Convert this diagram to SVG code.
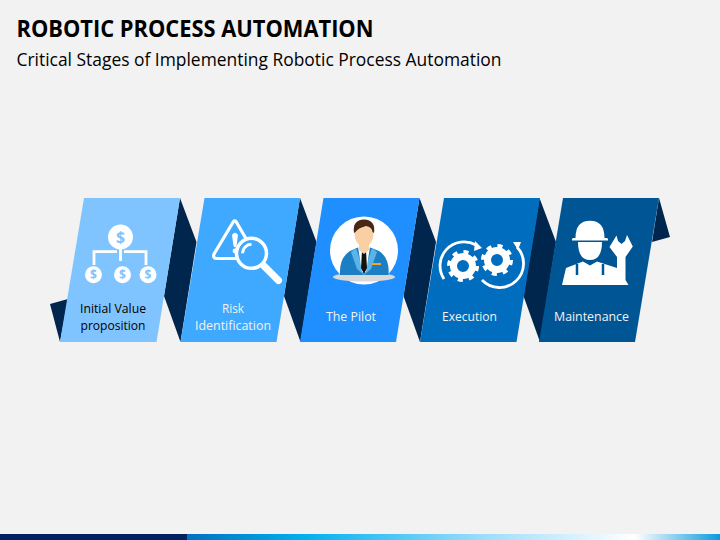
<svg xmlns="http://www.w3.org/2000/svg" width="720" height="540" viewBox="0 0 720 540">
<style>
text{font-family:"Open Sans","Noto Sans","Liberation Sans",sans-serif}
.t{font-size:23.500px;font-weight:700;fill:#000}
.s{font-size:18.500px;fill:#000}
.l{font-size:13.500px;fill:#f2f2f2;text-anchor:middle}
.dk{fill:#00264d}
.w{fill:#fff}
.ln{fill:none;stroke:#fff}
.d{font-size:12px;font-weight:700;text-anchor:middle}
</style>
<defs>
<linearGradient id="bar" x1="0" x2="1" y1="0" y2="0">
<stop offset="0" stop-color="#0070c0"/><stop offset=".22" stop-color="#00b0f0"/><stop offset=".55" stop-color="#9adcfb"/><stop offset=".84" stop-color="#ffffff"/><stop offset="1" stop-color="#0a9ade"/>
</linearGradient>
<g id="gear"><circle r="9.500" fill="none" stroke="#fff" stroke-width="7"/><circle r="14" fill="none" stroke="#fff" stroke-width="4" stroke-dasharray="5 6"/></g>
</defs>
<rect width="720" height="540" fill="#f2f2f2"/>
<text class="t" x="16.500" y="36.500" textLength="357" lengthAdjust="spacingAndGlyphs">ROBOTIC PROCESS AUTOMATION</text>
<text class="s" x="16.500" y="66" textLength="485" lengthAdjust="spacingAndGlyphs">Critical Stages of Implementing Robotic Process Automation</text>
<g id="connectors">
<path class="dk" d="M50 304L68 299L60 342Z"/>
<path class="dk" d="M180 198L196.500 242L180.500 342L164 296Z"/>
<path class="dk" d="M300 198L316.500 242L300.500 342L284 296Z"/>
<path class="dk" d="M419.500 198L436 242L420 342L403.500 296Z"/>
<path class="dk" d="M539.500 198L556 242L540 342L523.500 296Z"/>
<path class="dk" d="M659 198L670 237L652 242Z"/>
</g>
<g id="node1">
<path fill="#80c4ff" d="M84 198H180L156.500 342H60Z"/>
<circle class="w" cx="120.500" cy="237" r="12.500"/><text class="d" x="120.500" y="242.500" style="font-size:16px" fill="#80c4ff">$</text>
<path class="ln" stroke-width="2.800" d="M94 265V251.700H117M120.500 249V261M124 251.700H146V265"/>
<circle class="w" cx="93.500" cy="274.700" r="8.500"/><text class="d" x="93.500" y="279" fill="#80c4ff">$</text>
<circle class="w" cx="122.500" cy="274.700" r="8.500"/><text class="d" x="122.500" y="279" fill="#80c4ff">$</text>
<circle class="w" cx="148" cy="274.700" r="8.500"/><text class="d" x="148" y="279" fill="#80c4ff">$</text>
<text class="l" style="fill:#000" x="113" y="312.500" textLength="66" lengthAdjust="spacingAndGlyphs">Initial Value</text>
<text class="l" style="fill:#000" x="113" y="329.500" textLength="65" lengthAdjust="spacingAndGlyphs">proposition</text>
</g>
<g id="node2">
<path fill="#3fa9ff" d="M204.500 198H300L276.500 342H180.500Z"/>
<path d="M233.500 221.500L214 254Q212.500 258.500 217 258.500H252Q257 258.500 255 254L236 221.500Q234.800 220 233.500 221.500Z" fill="none" stroke="#fff" stroke-width="3.200" stroke-linejoin="round"/>
<path class="w" d="M232 235Q235 230.500 238 235L236.500 246Q235 248.500 233.500 246Z"/><circle class="w" cx="235" cy="251" r="2.400"/>
<circle cx="251.500" cy="253.300" r="15" fill="#3fa9ff" stroke="#fff" stroke-width="3.500"/>
<path class="ln" stroke-width="3" d="M242.500 253.300A9 9 0 0 1 251.500 244.300"/>
<path class="ln" stroke-width="7" stroke-linecap="round" d="M264 266L278.500 280.500"/>
<text class="l" x="233" y="312.500" textLength="22" lengthAdjust="spacingAndGlyphs">Risk</text>
<text class="l" x="233" y="329.500" textLength="76" lengthAdjust="spacingAndGlyphs">Identification</text>
</g>
<g id="node3">
<path fill="#1f8fff" d="M323.500 198H419.500L396 342H300Z"/>
<circle class="w" cx="364" cy="250.500" r="34"/>
<ellipse cx="364" cy="277" rx="31" ry="4.500" fill="#d9d9d9"/>
<path fill="#1c7fc4" d="M340 275Q339 258 350 251L359 247H369L379 251Q390 258 388.500 275Z"/>
<path fill="#5bb4e8" d="M356 248L351 252L357 269L364 275L371 269L377 252L372 248L364 272Z"/>
<path class="w" d="M358 247H370L366 272H362Z"/>
<path fill="#111" d="M362 251H366L367 268L364 274L361 268Z"/>
<path fill="#f9cfa4" d="M359 240H369V250L364 254L359 250Z"/>
<ellipse cx="364" cy="234" rx="9.500" ry="12.500" fill="#f9cfa4"/>
<path fill="#4a2617" d="M354 233Q352 220 364 219.500Q376 220 374 233L372.500 232Q372 227 366 226Q358 228 355.500 232Z"/>
<rect x="372" y="263" width="9" height="2" fill="#f5a623"/>
<text class="l" x="351" y="321" textLength="50" lengthAdjust="spacingAndGlyphs">The Pilot</text>
</g>
<g id="node4">
<path fill="#006dbf" d="M444 198H540L516.500 342H420Z"/>
<use href="#gear" x="463" y="266"/>
<use href="#gear" x="497" y="260"/>
<path class="ln" stroke-width="2.800" d="M444 279A24 24 0 0 1 476 245"/>
<path class="w" d="M475 241L482 248L474 251Z"/>
<path class="ln" stroke-width="2.800" d="M517 247A24 24 0 0 1 482 280"/>
<path class="w" d="M513 242H521L518 250Z"/>
<text class="l" x="469.500" y="321" textLength="55" lengthAdjust="spacingAndGlyphs">Execution</text>
</g>
<g id="node5">
<path fill="#005594" d="M563 198H659L635 342H539Z"/>
<path class="w" d="M575.500 238Q575.500 220.700 590 220.700Q604.500 220.700 604.500 238H607Q608.500 238.500 608 240.500H572Q571.500 238.500 573 238Z"/>
<path class="w" d="M578 242H602Q602 260 590 260Q578 260 578 242Z"/>
<path class="w" d="M562 285L566 268L583 261.500L590 265.500L597 261.500L617 268V257L609.500 247L616.500 235.500L618 241L621.500 244L625 241L627 235L632.800 246.500L625.500 257V280L628.500 285Z"/>
<path d="M577 264V275M603 264V275" fill="none" stroke="#005594" stroke-width="2.500"/>
<text class="l" x="591.500" y="321" textLength="75" lengthAdjust="spacingAndGlyphs">Maintenance</text>
</g>
<rect y="534" width="187" height="6" fill="#002060"/>
<rect x="187" y="534" width="533" height="6" fill="url(#bar)"/>
</svg>
